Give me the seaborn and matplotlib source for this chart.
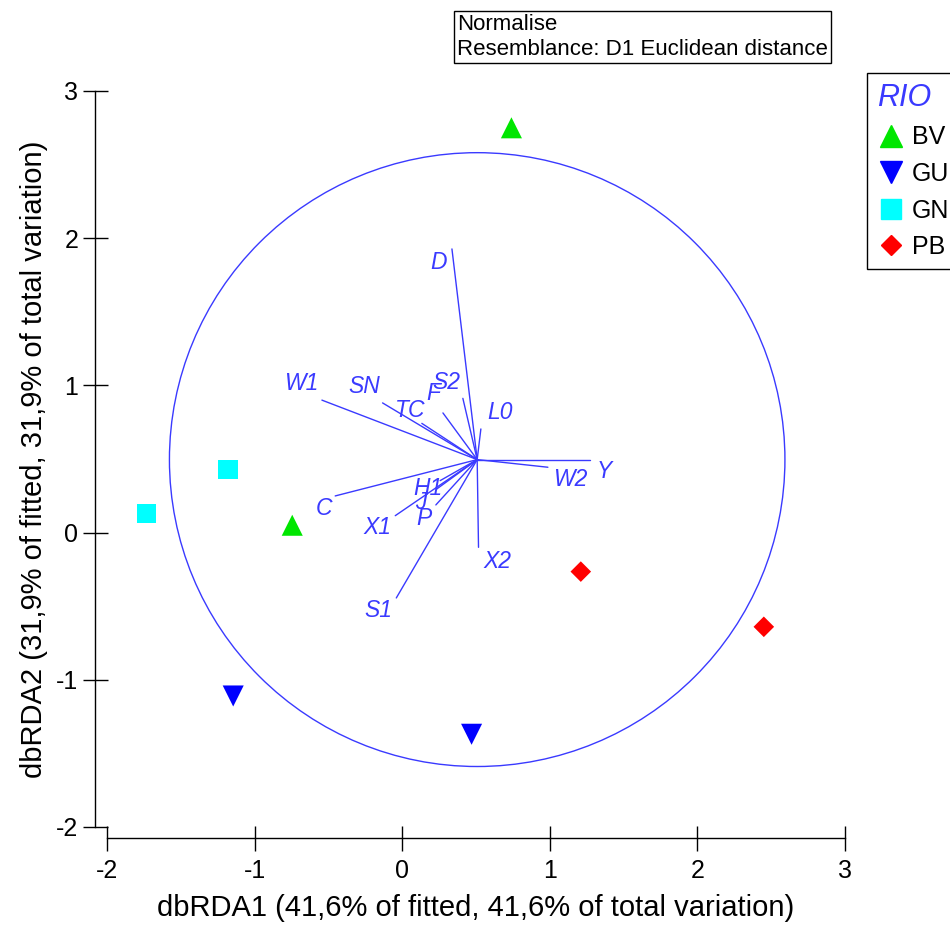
import numpy as np
import pandas as pd
import seaborn as sns
import matplotlib.pyplot as plt
from matplotlib.lines import Line2D
from matplotlib.patches import Circle

# Sample scores on the two dbRDA axes
rio = ['BV', 'BV', 'GU', 'GU', 'GN', 'GN', 'PB', 'PB']
db1 = [0.74, -0.745, -1.145, 0.47, -1.18, -1.73, 1.21, 2.45]
db2 = [2.75, 0.05, -1.11, -1.37, 0.43, 0.13, -0.265, -0.64]

# Predictor vectors (end points) and their labels
vec_names = ['D', 'W1', 'SN', 'TC', 'F', 'S2', 'L0', 'Y', 'W2', 'C', 'H1', 'J', 'X1', 'P', 'X2', 'S1']
vec_x = [0.337, -0.544, -0.133, 0.133, 0.276, 0.411, 0.533, 1.274, 0.987, -0.454, 0.257, 0.235, -0.047, 0.228, 0.517, -0.04]
vec_y = [1.927, 0.90, 0.881, 0.742, 0.813, 0.912, 0.704, 0.496, 0.444, 0.249, 0.353, 0.297, 0.115, 0.188, -0.10, -0.444]
lab_x = [0.244, -0.684, -0.257, 0.054, 0.21, 0.298, 0.664, 1.369, 1.138, -0.528, 0.176, 0.129, -0.169, 0.149, 0.644, -0.163]
lab_y = [1.834, 1.012, 0.992, 0.829, 0.944, 1.019, 0.815, 0.414, 0.36, 0.163, 0.30, 0.204, 0.034, 0.095, -0.197, -0.53]
origin = (0.508, 0.496)
radius = 2.085

groups = ['BV', 'GU', 'GN', 'PB']
colors = {'BV': '#00e600', 'GU': '#0000ff', 'GN': '#00ffff', 'PB': '#ff0000'}
markers = {'BV': '^', 'GU': 'v', 'GN': 's', 'PB': 'D'}
sizes = {'BV': 230, 'GU': 230, 'GN': 190, 'PB': 110}

df = pd.DataFrame({'RIO': rio, 'dbRDA1': db1, 'dbRDA2': db2})

sns.set_style("ticks")
plt.rcParams['font.family'] = ['Liberation Sans', 'DejaVu Sans']
plt.rcParams['axes.unicode_minus'] = False
plt.rcParams['text.color'] = 'black'
plt.rcParams['axes.labelcolor'] = 'black'
plt.rcParams['xtick.color'] = 'black'
plt.rcParams['ytick.color'] = 'black'

fig = plt.figure(figsize=(9.5, 9.26), dpi=100)
ax = fig.add_axes([107 / 950, 1 - 827 / 926, 738 / 950, 736 / 926])

vec_col = '#3a3aff'
ax.add_patch(Circle(origin, radius, fill=False, ec=vec_col, lw=1, clip_on=False))
for name, x, y, lx, ly in zip(vec_names, vec_x, vec_y, lab_x, lab_y):
    ax.plot([origin[0], x], [origin[1], y], color=vec_col, lw=1, clip_on=False)
    ax.text(lx, ly, name, color=vec_col, fontsize=16.5, style='italic', ha='center', va='center')

for g in groups:
    sub = df[df['RIO'] == g]
    sns.scatterplot(data=sub, x='dbRDA1', y='dbRDA2', marker=markers[g], color=colors[g],
                    s=sizes[g], edgecolor='none', ax=ax, clip_on=False, zorder=3)

ax.set_xlim(-2, 3)
ax.set_ylim(-2, 3)
ax.set_xticks([-2, -1, 0, 1, 2, 3])
ax.set_yticks([-2, -1, 0, 1, 2, 3])
ax.set_xlabel('dbRDA1 (41,6% of fitted, 41,6% of total variation)', fontsize=21, labelpad=8)
ax.set_ylabel('dbRDA2 (31,9% of fitted, 31,9% of total variation)', fontsize=21, labelpad=6)
ax.tick_params(direction='inout', length=18, width=1, labelsize=18, pad=3)
ax.tick_params(axis='x', pad=6)
sns.despine(ax=ax)
ax.spines['left'].set_position(('outward', 8.6))
ax.spines['bottom'].set_position(('outward', 7.9))
for s in ['left', 'bottom']:
    ax.spines[s].set_color('black')
    ax.spines[s].set_linewidth(1)

handles = [Line2D([], [], marker=markers[g], color=colors[g], linestyle='',
                  markersize=np.sqrt(sizes[g])) for g in groups]
leg = fig.legend(handles, groups, loc='upper left', bbox_to_anchor=(867 / 950, 1 - 73 / 926),
                 title='RIO', fontsize=18, frameon=True, fancybox=False, framealpha=1,
                 edgecolor='black', borderaxespad=0, handletextpad=0.3, labelspacing=0.5,
                 handlelength=1.1, borderpad=0.4, alignment='left',
                 title_fontproperties={'style': 'italic', 'size': 22})
leg.get_title().set_color('#3a3aff')
leg.get_frame().set_linewidth(1)

fig.text(457 / 950, 1 - 37 / 926, 'Normalise\nResemblance: D1 Euclidean distance', fontsize=16,
         ha='left', va='center', linespacing=1.25,
         bbox=dict(boxstyle='square,pad=0.15', fc='white', ec='black', lw=1))

fig.savefig('out.png', dpi=100)
